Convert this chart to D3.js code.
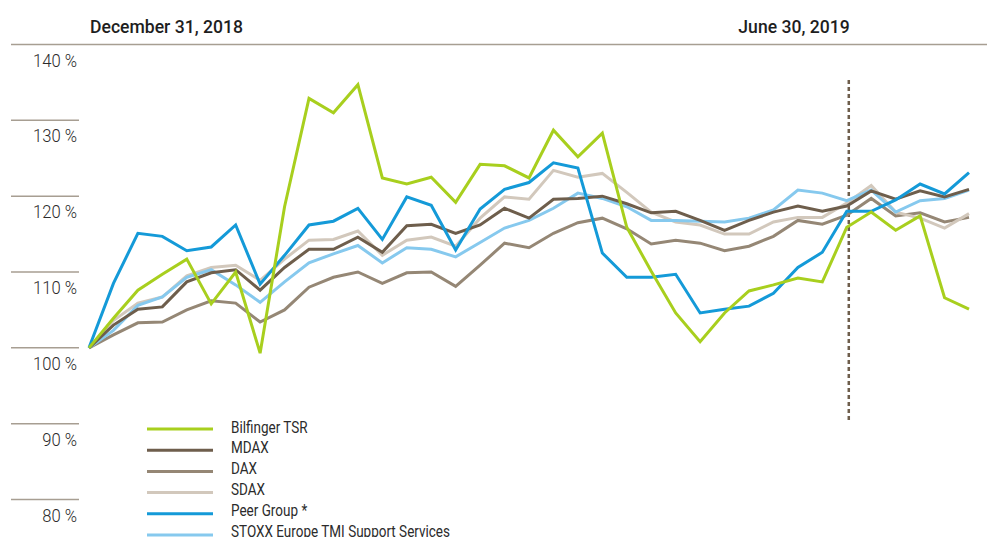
<!DOCTYPE html>
<html>
<head>
<meta charset="utf-8">
<script src="https://cdn.jsdelivr.net/npm/d3@7"></script>
<style>
  body { margin: 0; background: #fff; }
  svg text { font-family: "Roboto", "Liberation Sans", sans-serif; }
</style>
</head>
<body>
<svg width="987" height="537"></svg>
<script>
// weekly index values, 100 = December 31, 2018
var bilfinger = [100, 103.9, 107.6, 109.7, 111.7, 105.8, 110.0, 99.3, 118.6, 132.9, 131.0, 134.7, 122.4, 121.6, 122.5, 119.2, 124.2, 124.0, 122.4, 128.7, 125.2, 128.3, 115.9, 110.1, 104.6, 100.8, 104.6, 107.5, 108.3, 109.2, 108.7, 115.9, 117.9, 115.5, 117.4, 106.6, 105.1];
var mdax = [100, 103.0, 105.1, 105.4, 108.7, 109.9, 110.3, 107.6, 110.6, 113.0, 113.0, 114.6, 112.6, 116.1, 116.3, 115.1, 116.2, 118.4, 117.1, 119.6, 119.7, 120.0, 119.0, 117.8, 118.0, 116.8, 115.5, 116.8, 117.9, 118.7, 118.0, 118.7, 120.7, 119.6, 120.7, 119.9, 120.9];
var dax = [100, 101.7, 103.3, 103.4, 105.0, 106.2, 105.9, 103.4, 105.0, 108.0, 109.3, 110.0, 108.5, 109.9, 110.0, 108.1, 110.9, 113.8, 113.2, 115.1, 116.5, 117.1, 115.7, 113.7, 114.2, 113.8, 112.8, 113.4, 114.7, 116.8, 116.3, 117.5, 119.7, 117.4, 117.8, 116.6, 117.2];
var sdax = [100, 103.6, 105.9, 106.7, 109.5, 110.6, 110.9, 108.9, 111.7, 114.2, 114.3, 115.4, 112.2, 114.2, 114.6, 113.4, 117.1, 119.9, 119.6, 123.4, 122.5, 123.0, 120.5, 117.9, 116.6, 116.2, 115.0, 115.0, 116.6, 117.2, 117.2, 119.1, 121.4, 117.9, 117.1, 115.8, 117.7];
var peerGroup = [100, 108.5, 115.1, 114.7, 112.8, 113.3, 116.2, 108.4, 112.2, 116.2, 116.7, 118.4, 114.3, 119.9, 118.8, 112.9, 118.3, 120.9, 121.8, 124.4, 123.7, 112.5, 109.3, 109.3, 109.7, 104.6, 105.1, 105.5, 107.2, 110.6, 112.6, 118.0, 118.0, 119.5, 121.6, 120.3, 123.1];
var stoxx = [100, 102.3, 105.6, 106.7, 109.3, 110.3, 108.3, 106.0, 108.7, 111.2, 112.4, 113.5, 111.2, 113.2, 113.0, 112.0, 113.9, 115.8, 116.8, 118.4, 120.4, 119.7, 118.6, 116.8, 116.8, 116.7, 116.6, 117.1, 118.2, 120.8, 120.4, 119.4, 120.8, 117.9, 119.4, 119.7, 120.8];

var seriesNames = ["Bilfinger TSR", "MDAX", "DAX", "SDAX", "Peer Group *", "STOXX Europe TMI Support Services"];
var seriesColors = ["#a8cf1e", "#6e5e4c", "#958775", "#d2c8bc", "#149ad8", "#86c9ee"];
var yTicks = [80, 90, 100, 110, 120, 130, 140];
var dateLabels = ["December 31, 2018", "June 30, 2019"];
var dateIndex = [0, 31];

var allSeries = [bilfinger, mdax, dax, sdax, peerGroup, stoxx];

var svg = d3.select("svg");

var x = d3.scaleLinear().domain([0, bilfinger.length - 1]).range([89, 969]);
var y = d3.scaleLinear().domain([80, 140]).range([499.5, 44.5]);

// the original uses a condensed face; squeeze each text by the same ratio
function condense(sel, ratio) {
  sel.each(function() {
    var len = this.getComputedTextLength();
    d3.select(this).attr("textLength", len * ratio).attr("lengthAdjust", "spacingAndGlyphs");
  });
}
function ratioFor(txt, size, weight, target) {
  var t = svg.append("text").attr("font-size", size).attr("font-weight", weight).text(txt);
  var r = target / t.node().getComputedTextLength();
  t.remove();
  return r;
}

// header dates and top rule
var dates = svg.selectAll(".date")
  .data(dateLabels)
  .enter().append("text")
  .attr("x", function(d, i) { return i == 0 ? x(dateIndex[i]) + 1 : x(dateIndex[i]) + 3; })
  .attr("y", 33)
  .attr("text-anchor", function(d, i) { return i == 0 ? "start" : "end"; })
  .attr("font-size", 17.5)
  .attr("font-weight", 500)
  .attr("fill", "#1e1e1e")
  .text(function(d) { return d; });
condense(dates, ratioFor(dateLabels[0], 17.5, 500, 153));

svg.append("line")
  .attr("x1", 11).attr("x2", 987)
  .attr("y1", y(140)).attr("y2", y(140))
  .attr("stroke", "#a79e92")
  .attr("stroke-width", 1.5);

// y ticks: short rules with labels underneath
svg.selectAll(".tick")
  .data(yTicks.filter(function(d) { return d < 140; }))
  .enter().append("line")
  .attr("x1", 11).attr("x2", 79)
  .attr("y1", function(d) { return y(d); })
  .attr("y2", function(d) { return y(d); })
  .attr("stroke", "#a79e92")
  .attr("stroke-width", 1.5);

var ylabels = svg.selectAll(".ylabel")
  .data(yTicks)
  .enter().append("text")
  .attr("x", 77)
  .attr("y", function(d) { return y(d) + 22; })
  .attr("text-anchor", "end")
  .attr("font-size", 18)
  .attr("font-weight", 300)
  .attr("fill", "#2b2b2b")
  .text(function(d) { return d + " %"; });
condense(ylabels, ratioFor("140 %", 18, 300, 44));

// June 30 marker
svg.append("line")
  .attr("x1", x(dateIndex[1]) + 2).attr("x2", x(dateIndex[1]) + 2)
  .attr("y1", 80).attr("y2", 421)
  .attr("stroke", "#6e5e4c")
  .attr("stroke-width", 2.5)
  .attr("stroke-dasharray", "4,3");

var line = d3.line()
  .x(function(d, i) { return x(i); })
  .y(function(d) { return y(d); });

// draw order: bottom first, Bilfinger on top
var order = [2, 3, 5, 1, 4, 0];
order.forEach(function(k) {
  svg.append("path")
    .datum(allSeries[k])
    .attr("fill", "none")
    .attr("stroke", seriesColors[k])
    .attr("stroke-width", 3)
    .attr("stroke-linejoin", "miter")
    .attr("d", line);
});

// legend
var legend = svg.selectAll(".legend")
  .data(seriesNames)
  .enter().append("g")
  .attr("transform", function(d, i) { return "translate(147," + (429 + i * 21.2) + ")"; });

legend.append("line")
  .attr("x1", 0).attr("x2", 66)
  .attr("stroke", function(d, i) { return seriesColors[i]; })
  .attr("stroke-width", 3);

var ltext = legend.append("text")
  .attr("x", 84)
  .attr("y", function(d, i) { return 3.5 - i * 0.4; })
  .attr("font-size", 17)
  .attr("fill", "#2b2b2b")
  .text(function(d) { return d; });
condense(ltext, ratioFor(seriesNames[5], 17, 400, 219));
</script>
</body>
</html>
